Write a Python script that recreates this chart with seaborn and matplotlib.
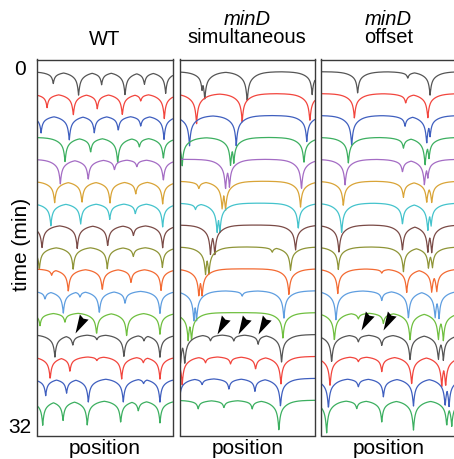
import numpy as np
import pandas as pd
import matplotlib
matplotlib.use("Agg")
import matplotlib.pyplot as plt
from matplotlib.path import Path
import seaborn as sns

# === Data ===
# one colour per time point (top to bottom)
trace_colors = ['#555555', '#f2453d', '#3f5fbf', '#3caf60', '#a46cc4', '#d9a437',
                '#44c3cc', '#7a4a46', '#8e9436', '#f36a32', '#5f9ee0', '#6fbf3f',
                '#555555', '#f2453d', '#3f5fbf', '#3caf60']

# dips per trace: (position as fraction of width, depth in trace spacings)
wt_dips = [
    [(.118, .55), (.305, 1.1), (.475, .6), (.648, 1.1), (.791, .6), (.948, 1.0)],
    [(.072, .65), (.266, 1.0), (.443, .7), (.628, 1.0), (.764, .35), (.938, 1.15)],
    [(.028, .8), (.236, 1.15), (.421, .8), (.598, .7), (.764, .5), (.936, 1.1)],
    [(.205, 1.15), (.394, .7), (.594, 1.2), (.754, .45), (.931, 1.0)],
    [(.170, 1.15), (.376, .95), (.57, .5), (.735, .35), (.931, 1.0)],
    [(.128, 1.0), (.33, 1.0), (.537, 1.0), (.727, .6), (.926, 1.05)],
    [(.10, 1.05), (.32, 1.0), (.535, .75), (.724, .5), (.926, 1.1)],
    [(.035, 1.1), (.295, 1.1), (.52, 1.0), (.71, .5), (.926, 1.05)],
    [(.015, 1.05), (.265, 1.05), (.517, 1.0), (.709, .45), (.924, .95)],
    [(.106, .3), (.229, 1.05), (.48, 1.0), (.692, .65), (.914, 1.0)],
    [(.057, .4), (.192, 1.05), (.315, .3), (.458, 1.05), (.648, .6), (.906, 1.05)],
    [(.02, .6), (.204, .45), (.438, 1.0), (.66, 1.1), (.906, 1.0)],
    [(.13, 1.05), (.262, .5), (.44, .25), (.64, 1.05), (.788, .3), (.906, 1.05)],
    [(.095, 1.05), (.241, .7), (.44, .2), (.623, 1.05), (.783, .3), (.906, 1.05)],
    [(.062, .8), (.216, .7), (.377, 1.1), (.635, 1.1), (.785, .25), (.906, 1.1)],
    [(.04, 1.15), (.19, .95), (.369, 1.15), (.616, 1.05), (.746, .5), (.906, 1.05)],
]

simul_dips = [
    [(.167, .9), (.187, 1.3), (.50, 1.4), (.98, 1.05)],
    [(.126, 1.4), (.463, 1.3), (.963, 1.3)],
    [(.074, 1.4), (.419, 1.4), (.94, 1.2)],
    [(.02, 1.3), (.377, 1.3), (.401, 1.2), (.919, 1.2)],
    [(.34, 1.4), (.369, 1.3), (.901, 1.4)],
    [(.143, .35), (.315, 1.3), (.34, 1.4), (.894, 1.2)],
    [(.118, .3), (.278, 1.4), (.298, 1.4), (.877, 1.2)],
    [(.229, 1.4), (.261, 1.4), (.857, 1.2)],
    [(.192, 1.3), (.217, 1.3), (.685, .25), (.82, 1.1)],
    [(.143, 1.3), (.167, 1.3), (.808, 1.2)],
    [(.106, 1.4), (.126, 1.4), (.463, .25), (.771, 1.3)],
    [(.064, 1.3), (.089, 1.3), (.764, 1.2)],
    [(.007, 1.4), (.039, 1.4), (.229, .3), (.401, .3), (.581, .45), (.754, 1.3)],
    [(.02, 1.3), (.192, .3), (.377, .35), (.562, .6), (.749, 1.3)],
    [(.0, 1.0), (.167, .3), (.365, .5), (.557, .6), (.746, 1.3)],
    [(.138, .4), (.328, .35), (.537, .4), (.734, 1.4)],
]

offset_dips = [
    [(.273, 1.0), (.643, .3), (.808, 1.1)],
    [(.249, 1.15), (.628, .45), (.791, 1.15)],
    [(.229, 1.4), (.623, .5), (.783, 1.3), (.808, 1.0)],
    [(.204, 1.2), (.611, .5), (.771, 1.3), (.80, 1.0)],
    [(.18, 1.2), (.604, .6), (.766, 1.2), (.791, .9)],
    [(.167, 1.15), (.611, .75), (.783, 1.0), (.82, 1.0)],
    [(.155, 1.4), (.604, 1.0), (.791, 1.3), (.815, 1.1)],
    [(.135, 1.3), (.604, 1.2), (.791, 1.3), (.82, 1.3)],
    [(.13, 1.05), (.611, 1.15), (.796, 1.0), (.825, 1.0)],
    [(.126, 1.15), (.451, .2), (.635, 1.1), (.82, 1.1), (.857, 1.1)],
    [(.113, 1.4), (.451, .45), (.648, 1.3), (.845, 1.3), (.874, 1.3)],
    [(.101, 1.3), (.278, .3), (.463, .5), (.66, 1.3), (.869, 1.3), (.906, 1.3)],
    [(.081, 1.3), (.278, .35), (.451, .5), (.66, 1.2), (.869, 1.2), (.906, 1.2)],
    [(.069, 1.4), (.278, .25), (.451, .7), (.672, 1.3), (.894, 1.4), (.923, 1.4)],
    [(.057, 1.4), (.278, .4), (.463, .85), (.685, 1.3), (.919, 1.3), (.948, 1.3)],
    [(.044, 1.5), (.266, .4), (.451, 1.0), (.685, 1.4), (.931, 1.2), (.968, 1.2)],
]

# arrowhead tips (position, time-axis level)
wt_arrows_x = [0.276]
simul_arrows_x = [0.278, 0.433, 0.58]
offset_arrows_x = [0.30, 0.46]
arrows_y = [-11.95, -11.98, -11.8]

panel_titles = [('', 'WT'), ('minD', 'simultaneous'), ('minD', 'offset')]

# === Build line profiles from the dips ===
x = np.linspace(0, 1, 500)


def profile(dips):
    shapes = [d * (0.5 * np.exp(-np.abs(x - p) / 0.008) + 0.5 * np.exp(-np.abs(x - p) / 0.05))
              for p, d in dips]
    return -np.max(shapes, axis=0)


def to_frame(all_dips):
    rows = []
    for i, dips in enumerate(all_dips):
        rows.append(pd.DataFrame({'position': x, 'signal': profile(dips) - i, 'trace': i}))
    return pd.concat(rows, ignore_index=True)


# arrowhead marker: tip at the origin, pointing down-left
arrow_marker = Path([(0, 0), (.23, 1), (.42, .78), (.69, .73), (0, 0)],
                    [Path.MOVETO, Path.LINETO, Path.LINETO, Path.LINETO, Path.CLOSEPOLY])

# === Plot ===
sns.set_style("white")
plt.rcParams['font.family'] = ['Liberation Sans', 'DejaVu Sans']
plt.rcParams['text.color'] = 'black'

fig = plt.figure(figsize=(4.54, 4.59), dpi=100)
W, H = 454, 459
lefts = [37.3, 179.5, 320.7]
panels = [wt_dips, simul_dips, offset_dips]
arrows = [wt_arrows_x, simul_arrows_x, offset_arrows_x]

for k in range(3):
    ax = fig.add_axes([lefts[k] / W, 1 - 435.5 / H, 135.4 / W, 376 / H])
    df = to_frame(panels[k])
    sns.lineplot(data=df, x='position', y='signal', hue='trace', palette=trace_colors,
                 estimator=None, sort=False, legend=False, lw=0.9, ax=ax)
    ax.scatter(arrows[k], [arrows_y[k]] * len(arrows[k]), marker=arrow_marker,
               s=750, color='black', linewidths=0, zorder=5)
    ax.set_xlim(0, 1)
    ax.set_ylim(-16.61, 0.557)
    ax.set_xticks([])
    ax.set_yticks([])
    ax.set_xlabel('')
    ax.set_ylabel('')
    for sp in ax.spines.values():
        sp.set_color('#3a3a3a')
        sp.set_linewidth(1.0)

    cx = (lefts[k] + 67.7) / W
    top, bottom = panel_titles[k]
    if top:
        fig.text(cx, 1 - 25 / H, top, ha='center', va='baseline', fontsize=14.5, style='italic')
    fig.text(cx, 1 - (45 if k == 0 else 43) / H, bottom, ha='center', va='baseline', fontsize=14.5)
    fig.text(cx, 1 - 454 / H, 'position', ha='center', va='baseline', fontsize=15)

fig.text(20 / W, 1 - 75 / H, '0', ha='center', va='baseline', fontsize=15)
fig.text(20 / W, 1 - 433 / H, '32', ha='center', va='baseline', fontsize=15)
fig.text(22 / W, 1 - 244 / H, 'time (min)', ha='center', va='center', rotation=90, fontsize=15)

plt.savefig('out.png', dpi=100)
